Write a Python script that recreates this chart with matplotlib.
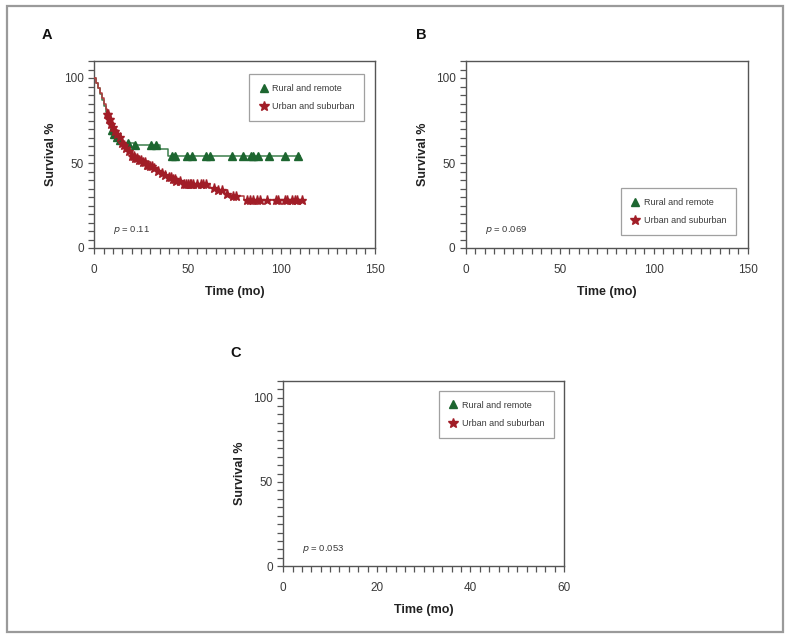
import numpy as np
import matplotlib
matplotlib.use('Agg')
import matplotlib.pyplot as plt
from matplotlib.patches import Rectangle
from matplotlib.lines import Line2D

plt.rcParams['font.family'] = ['Liberation Sans', 'DejaVu Sans']

# Panel A - Kaplan-Meier steps (time in months, survival %)
rural_times = [0, 1, 2, 3, 4, 5, 6, 7, 8, 9, 10, 11, 13, 15, 21, 35.2, 39.6]
rural_surv = [100, 97, 94, 90.5, 87, 83.5, 80, 76.5, 73, 69.5, 67, 65.5, 63.5, 62, 60.5, 58, 54]
rural_end = 110
rural_censor = [9.3, 9.8, 10.5, 12.0, 13.8, 18.2, 21.8, 30.6, 33.0, 41.4, 43.2, 49.8, 52.1,
                59.6, 61.9, 73.5, 79.4, 83.7, 84.8, 87.8, 93.5, 102.1, 109.2]

urban_times = [0, 1, 2, 3, 4, 5, 6, 7, 8, 9, 10, 11, 12, 13, 14, 15, 16, 17, 18, 19, 20, 22,
               24, 26, 28, 30, 32, 34, 36, 38, 40, 42, 44, 47, 62, 66, 71, 73, 80]
urban_surv = [100, 97, 94, 91, 88, 85, 82, 79, 76, 73, 71, 69, 67, 65.5, 64, 62, 60.5, 59,
              57, 55.5, 54, 53, 51.5, 50.5, 49, 48, 47, 45.5, 44, 43, 41.5, 40.5, 39.5, 37.5,
              35.5, 34, 32, 30.5, 28.5]
urban_end = 112.8
urban_censor = [7, 7.5, 8, 8.5, 9, 10, 11, 12, 13.5, 15, 16, 17, 18.5, 20, 21, 22, 23, 24, 25,
                26, 27, 28, 29, 30, 31, 32, 34, 36, 38, 40, 41, 42, 43, 44, 46, 48, 49, 50, 51,
                52, 53, 55, 57, 58, 60, 64, 66, 68.2, 71.2, 74.4, 75.9, 81.6, 83.4, 85.1, 87.3,
                88.7, 92.6, 97.3, 98.5, 102.1, 103, 105.7, 107.4, 108.7, 111]

group_labels = ['Rural and remote', 'Urban and suburban']
p_values = ['0.11', '0.069', '0.053']
panel_letters = ['A', 'B', 'C']
x_max = [150, 150, 60]
x_major = [50, 50, 20]
x_minor = [5, 5, 2]

green_line = '#3c7f4c'
green_mark = '#1d6630'
red_line = '#b23a3e'
red_mark = '#a11d27'
axis_col = '#555555'
text_col = '#3a3a3a'


def level_at(times, surv, t):
    i = np.searchsorted(times, t, side='right') - 1
    return np.asarray(surv)[i]


fig = plt.figure(figsize=(7.9, 6.4), dpi=100)

# outer frame
fig.patches.append(Rectangle((6.7 / 790, 1 - 632.3 / 640), 776 / 790, 626.3 / 640,
                             transform=fig.transFigure, fill=False,
                             edgecolor='#9a9a9a', linewidth=1.6))

positions = [
    [94.3 / 790, 1 - 248 / 640, 280.2 / 790, 187 / 640],
    [466 / 790, 1 - 248 / 640, 281.7 / 790, 187 / 640],
    [283.3 / 790, 1 - 566.3 / 640, 280.7 / 790, 185.6 / 640],
]
letter_pos = [(47, 35), (421, 35), (236, 353)]
legend_loc = ['upper right', 'lower right', 'upper right']
legend_anchor = [(0.9636, 0.9305), (0.9585, 0.0695), (0.9644, 0.946)]

for k in range(3):
    ax = fig.add_axes(positions[k])
    ax.set_xlim(0, x_max[k])
    ax.set_ylim(0, 110)
    for sp in ax.spines.values():
        sp.set_color(axis_col)
        sp.set_linewidth(1.0)
    ax.set_xticks(np.arange(0, x_max[k] + 0.01, x_major[k]))
    ax.set_xticks(np.arange(0, x_max[k] + 0.01, x_minor[k]), minor=True)
    ax.set_yticks([0, 50, 100])
    ax.set_yticks(np.arange(0, 111, 5), minor=True)
    ax.tick_params(which='both', direction='out', length=4.5, width=0.9, color=axis_col,
                   labelsize=8.5, labelcolor=text_col)
    ax.tick_params(axis='x', which='both', pad=7)
    ax.tick_params(axis='y', which='both', pad=3)
    ax.set_xlabel('Time (mo)', fontsize=9, fontweight='bold', color='#222222', labelpad=7)
    ax.set_ylabel('Survival %', fontsize=9, fontweight='bold', color='#222222', labelpad=5)

    if k == 0:
        rt = list(rural_times) + [rural_end]
        rs = list(rural_surv) + [rural_surv[-1]]
        ax.step(rt, rs, where='post', color=green_line, lw=1.1, zorder=2)
        ut = list(urban_times) + [urban_end]
        us = list(urban_surv) + [urban_surv[-1]]
        ax.step(ut, us, where='post', color=red_line, lw=1.1, zorder=3)
        ax.plot(rural_censor, level_at(rural_times, rural_surv, rural_censor), ls='none',
                marker='^', ms=6, color=green_mark, zorder=4)
        ax.plot(urban_censor, level_at(urban_times, urban_surv, urban_censor), ls='none',
                marker='*', ms=6.5, color=red_mark, zorder=5)

    handles = [Line2D([], [], ls='none', marker='^', ms=6, color=green_mark),
               Line2D([], [], ls='none', marker='*', ms=7, color=red_mark)]
    leg = ax.legend(handles, group_labels, loc=legend_loc[k], bbox_to_anchor=legend_anchor[k],
                    fontsize=6.5, frameon=True, fancybox=False, borderpad=1.1,
                    handletextpad=0.4, handlelength=1.0, labelspacing=1.0, borderaxespad=0)
    leg.get_frame().set_edgecolor('#888888')
    leg.get_frame().set_linewidth(0.9)
    for t in leg.get_texts():
        t.set_color(text_col)

    x_p = 10 if k < 2 else 4
    ax.text(x_p, 10.5, r'$\it{p}$ = ' + p_values[k], fontsize=6.8, color=text_col,
            va='center', ha='left')

    lx, ly = letter_pos[k]
    fig.text(lx / 790, 1 - ly / 640, panel_letters[k], fontsize=10.5, fontweight='bold',
             ha='center', va='center', color='#111111')

fig.savefig('out.png', dpi=100)
